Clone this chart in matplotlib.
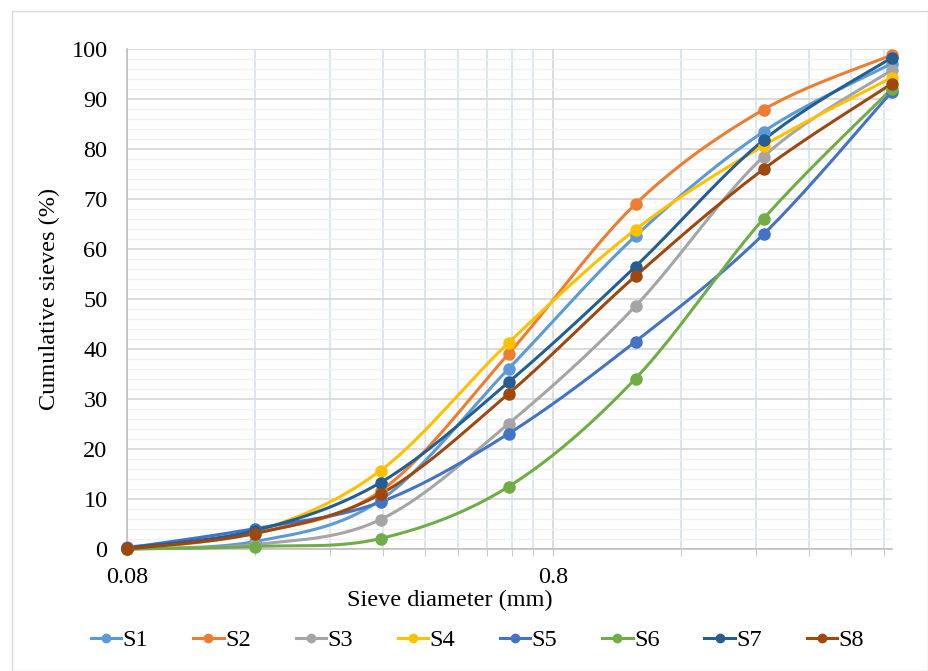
import numpy as np
import matplotlib
matplotlib.use("Agg")
import matplotlib.pyplot as plt
from matplotlib.patches import Rectangle

sieves = [0.08, 0.16, 0.315, 0.63, 1.25, 2.5, 5.0]
names = ["S1", "S2", "S3", "S4", "S5", "S6", "S7", "S8"]
s1 = [0.0, 1.5, 9.8, 36.1, 62.6, 83.5, 97.1]
s2 = [0.4, 3.2, 11.6, 39.1, 69.0, 87.9, 98.8]
s3 = [0.0, 0.9, 5.9, 25.1, 48.6, 78.5, 95.8]
s4 = [0.0, 3.5, 15.7, 41.3, 63.9, 80.7, 94.3]
s5 = [0.2, 4.1, 9.4, 23.1, 41.5, 63.0, 91.5]
s6 = [0.0, 0.5, 2.1, 12.5, 34.1, 66.1, 92.1]
s7 = [0.2, 3.7, 13.3, 33.4, 56.5, 81.8, 98.3]
s8 = [0.0, 3.1, 11.0, 31.1, 54.6, 76.0, 93.1]
series = [s1, s2, s3, s4, s5, s6, s7, s8]
colors = ["#5B9BD5", "#ED7D31", "#A5A5A5", "#FFC000",
          "#4472C4", "#70AD47", "#255E91", "#9E480E"]


def smooth(xs, ys, n=40):
    # Excel-like smoothed line: Catmull-Rom Bezier in (log x, y)
    lx = np.log10(np.asarray(xs, float))
    y = np.asarray(ys, float)
    P = np.column_stack([lx, y])
    out = []
    for i in range(len(P) - 1):
        p0 = P[i - 1] if i > 0 else P[i]
        p1 = P[i]
        p2 = P[i + 1]
        p3 = P[i + 2] if i + 2 < len(P) else P[i + 1]
        c1 = p1 + (p2 - p0) / 6.0
        c2 = p2 - (p3 - p1) / 6.0
        t = np.linspace(0, 1, n)[:, None]
        b = ((1 - t) ** 3) * p1 + 3 * ((1 - t) ** 2) * t * c1 + 3 * (1 - t) * t ** 2 * c2 + t ** 3 * p2
        out.append(b if i == 0 else b[1:])
    B = np.vstack(out)
    return 10 ** B[:, 0], B[:, 1]


plt.rcParams['font.family'] = ['Liberation Serif', 'DejaVu Serif']
FS = 17.5
W, H = 929, 671
fig = plt.figure(figsize=(W / 100, H / 100), dpi=100)
fig.patches.append(Rectangle((12 / W, 0.5 / H), (W - 13) / W, (H - 11) / H,
                             transform=fig.transFigure, fill=False,
                             edgecolor="#d9d9d9", linewidth=1.0))

x0, x1, y0, y1 = 127, 892, 49, 549
ax = fig.add_axes([x0 / W, (H - y1) / H, (x1 - x0) / W, (y1 - y0) / H])
ax.set_xscale('log')
ax.set_xlim(0.08, 5.0)
ax.set_ylim(0, 100)

# gridlines
ax.set_yticks(np.arange(0, 101, 10))
ax.set_yticks(np.arange(0, 101, 2), minor=True)
ax.set_xticks([0.08, 0.8])
ax.set_xticklabels(["0.08", "0.8"])
minors = [0.08 * k for k in range(2, 10)] + [0.8 * k for k in range(2, 7)]
minors = [m for m in minors if m <= 5.0]
ax.set_xticks(minors, minor=True)
ax.set_xticklabels([], minor=True)

ax.grid(which='major', axis='y', color='#d9d9d9', linewidth=1.3, zorder=0)
ax.grid(which='minor', axis='y', color='#f0f0f0', linewidth=1.0, zorder=0)
ax.grid(which='major', axis='x', color='#d9d9d9', linewidth=1.3, zorder=0)
ax.grid(which='minor', axis='x', color='#d6e4f3', linewidth=1.3, zorder=0)
ax.set_axisbelow(True)

for sp in ['top', 'right']:
    ax.spines[sp].set_visible(False)
for sp in ['left', 'bottom']:
    ax.spines[sp].set_color('#bfbfbf')
    ax.spines[sp].set_linewidth(1.2)

ax.tick_params(axis='y', which='both', length=0, labelsize=FS, pad=14)
ax.tick_params(axis='x', which='major', length=5, color='#bfbfbf', labelsize=FS, pad=8)
ax.tick_params(axis='x', which='minor', length=5, color='#bfbfbf')

for name, vals, c in zip(names, series, colors):
    sx, sy = smooth(sieves, vals)
    ax.plot(sx, sy, color=c, linewidth=2.2, zorder=3, clip_on=False)
    ax.plot(sieves, vals, linestyle='none', marker='o', markersize=8,
            color=c, zorder=4, clip_on=False)
    ax.plot([], [], color=c, linewidth=2.2, marker='o', markersize=6, label=name)

ax.set_xlabel("Sieve diameter (mm)", fontsize=FS)
ax.xaxis.set_label_coords((450 - x0) / (x1 - x0), -(600 - y1) / (y1 - y0))
ax.xaxis.label.set_verticalalignment('center')
ax.set_ylabel("Cumulative sieves (%)", fontsize=FS, labelpad=8)

handles, labels = ax.get_legend_handles_labels()
fig.legend(handles, labels, loc='center', bbox_to_anchor=(0.514, (H - 640) / H),
           ncol=8, frameon=False, fontsize=FS, handlelength=1.25,
           handletextpad=0.05, columnspacing=1.85)

fig.savefig("out.png", dpi=100)
